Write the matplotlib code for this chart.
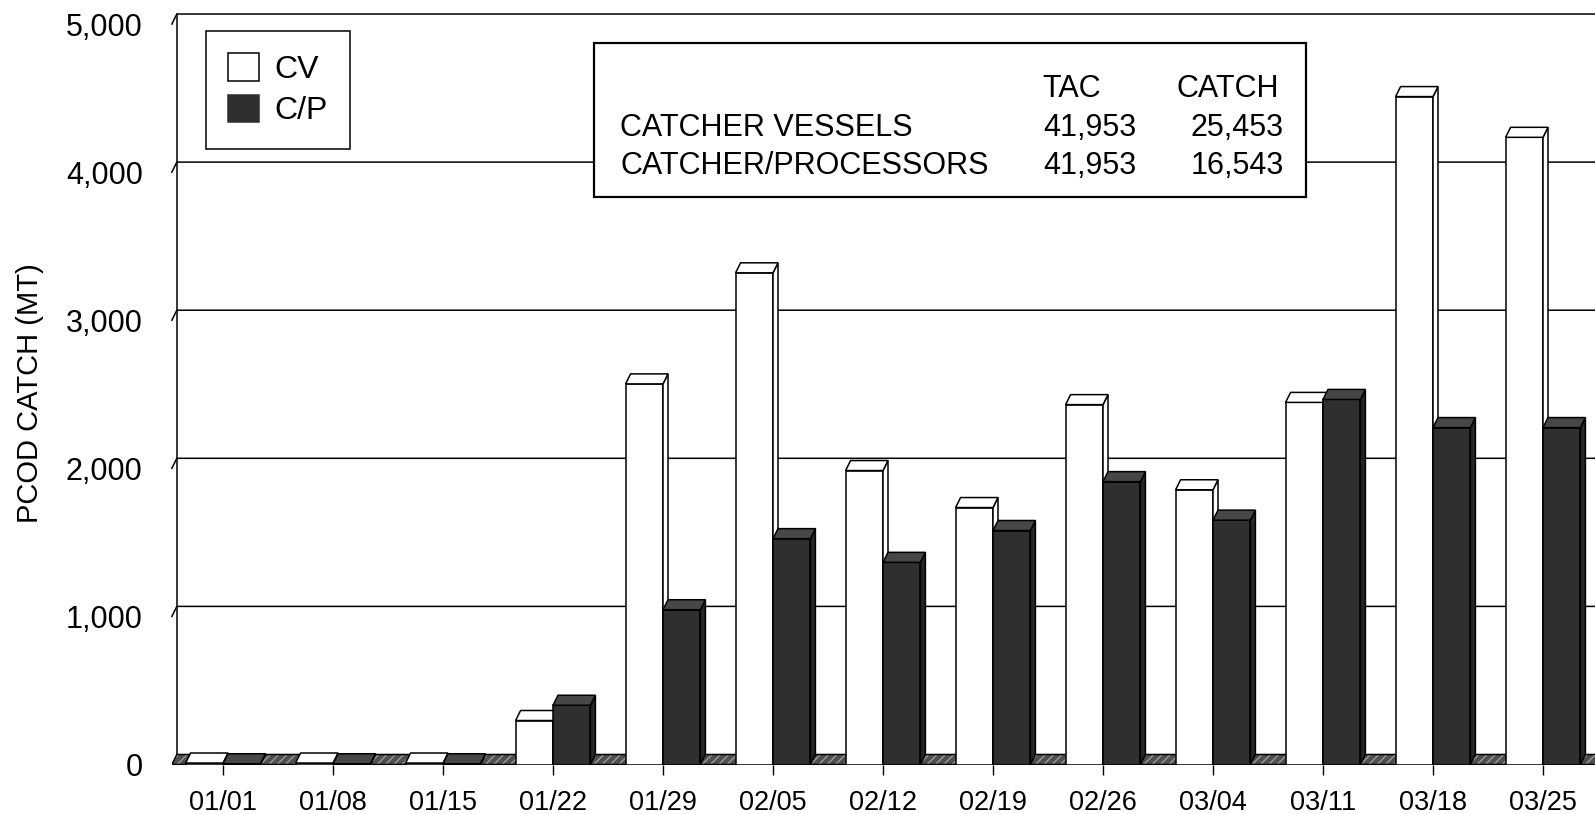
"""Weekly Pacific cod catch by sector, drawn as a pseudo-3D grouped bar chart."""

import matplotlib.pyplot as plt
from matplotlib.patches import Patch, Polygon, Rectangle

plt.rcParams["font.family"] = ["Liberation Sans", "DejaVu Sans"]

weeks = ["01/01", "01/08", "01/15", "01/22", "01/29", "02/05", "02/12",
         "02/19", "02/26", "03/04", "03/11", "03/18", "03/25"]
cv_catch = [10, 10, 10, 297, 2570, 3320, 1985, 1735, 2430, 1855, 2445, 4510, 4235]
cp_catch = [5, 5, 5, 400, 1045, 1525, 1365, 1580, 1910, 1650, 2465, 2275, 2275]

yticks = [0, 1000, 2000, 3000, 4000, 5000]
ytick_labels = ["0", "1,000", "2,000", "3,000", "4,000", "5,000"]

table_rows = ["CATCHER VESSELS", "CATCHER/PROCESSORS"]
table_tac = ["41,953", "41,953"]
table_catch = ["25,453", "16,543"]

W, H, DPI = 1595, 814, 100

# depth of the fake 3D box: offset of the back plane in data units
DX = 5 / 110.0
DY = 67.6
BAR_W = 0.34
XL, XR = -0.465, 12.6

EDGE = "black"
LW = 1.1
WHITE = "white"
DARK_FRONT = "#2f2f2f"
DARK_TOP = "#474747"
DARK_SIDE = "#262626"


def fx(px):
    return px / W


def fy(py):
    return 1 - py / H


def draw_bar(ax, x0, value, front, top, side):
    z = 3 + x0 * 0.01
    ax.add_patch(Polygon([(x0, -DY), (x0 + BAR_W, -DY), (x0 + BAR_W, value - DY), (x0, value - DY)],
                         closed=True, facecolor=front, edgecolor=EDGE, lw=LW, zorder=z))
    ax.add_patch(Polygon([(x0 + BAR_W, -DY), (x0 + BAR_W + DX, 0), (x0 + BAR_W + DX, value),
                          (x0 + BAR_W, value - DY)],
                         closed=True, facecolor=side, edgecolor=EDGE, lw=LW, zorder=z))
    ax.add_patch(Polygon([(x0, value - DY), (x0 + BAR_W, value - DY), (x0 + BAR_W + DX, value),
                          (x0 + DX, value)],
                         closed=True, facecolor=top, edgecolor=EDGE, lw=LW, zorder=z))


fig = plt.figure(figsize=(W / DPI, H / DPI), dpi=DPI)
ax_left, ax_right = 171.85, 223 + XR * 110
ax_bottom, ax_top = 764.5, 8.1
ax = fig.add_axes([fx(ax_left), fy(ax_bottom), fx(ax_right - ax_left), (ax_bottom - ax_top) / H])
ax.set_xlim(XL, XR)
ax.set_ylim(-DY, 5040)
for s in ax.spines.values():
    s.set_visible(False)
ax.patch.set_alpha(0)

# back wall: left edge, gridlines with their little depth hooks
ax.plot([XL + DX, XL + DX], [0, 5000], color=EDGE, lw=LW, zorder=1, clip_on=False)
for g in yticks[1:]:
    ax.plot([XL, XL + DX, XR + 1], [g - DY, g, g], color=EDGE, lw=LW, zorder=1, clip_on=False)

# floor strip
floor = [(XL, -DY), (XR + 1, -DY), (XR + 1 + DX, 0), (XL + DX, 0)]
ax.add_patch(Polygon(floor, closed=True, facecolor="#4f4f4f", edgecolor="none", zorder=2))
ax.add_patch(Polygon(floor, closed=True, fill=False, hatch="////", edgecolor="#9a9a9a",
                     lw=0, zorder=2))
ax.add_patch(Polygon(floor, closed=True, fill=False, edgecolor=EDGE, lw=LW, zorder=2.5))

for i, (cv, cp) in enumerate(zip(cv_catch, cp_catch)):
    draw_bar(ax, i - BAR_W, cv, WHITE, WHITE, WHITE)
    draw_bar(ax, i, cp, DARK_FRONT, DARK_TOP, DARK_SIDE)

ax.set_xticks(range(len(weeks)))
ax.set_xticklabels(weeks, fontsize=19.5)
ax.tick_params(axis="x", direction="out", length=7.2, width=1.0, pad=11)
ax.set_yticks([v - DY for v in yticks])
ax.set_yticklabels(ytick_labels, fontsize=22)
ax.tick_params(axis="y", length=0, pad=21)

fig.text(fx(30), fy(393), "PCOD CATCH (MT)", rotation=90, ha="center", va="center", fontsize=21)

leg = ax.legend(handles=[Patch(facecolor=WHITE, edgecolor=EDGE, lw=LW),
                         Patch(facecolor=DARK_FRONT, edgecolor=DARK_FRONT, lw=LW)],
                labels=["CV", "C/P"], loc="upper left",
                bbox_to_anchor=(fx(206), fy(31)), bbox_transform=fig.transFigure,
                borderaxespad=0, fontsize=23, handlelength=0.95, handleheight=0.95,
                labelspacing=0.3, handletextpad=0.5, borderpad=0.7,
                fancybox=False, framealpha=1, edgecolor=EDGE)
leg.get_frame().set_linewidth(1.1)
leg.set_zorder(10)

# TAC / catch summary box
fig.patches.append(Rectangle((fx(594), fy(197)), fx(1306 - 594), (197 - 43) / H,
                             transform=fig.transFigure, facecolor=WHITE, edgecolor=EDGE,
                             lw=1.6, zorder=10))
fig.text(fx(1072), fy(97), "TAC", ha="center", va="baseline", fontsize=22, zorder=11)
fig.text(fx(1228), fy(97), "CATCH", ha="center", va="baseline", fontsize=22, zorder=11)
for row, name in enumerate(table_rows):
    base = fy(136 + 38 * row)
    fig.text(fx(620), base, name, ha="left", va="baseline", fontsize=22, zorder=11)
    fig.text(fx(1136), base, table_tac[row], ha="right", va="baseline", fontsize=22, zorder=11)
    fig.text(fx(1284), base, table_catch[row], ha="right", va="baseline", fontsize=22, zorder=11)

fig.savefig("out.png", dpi=DPI)
